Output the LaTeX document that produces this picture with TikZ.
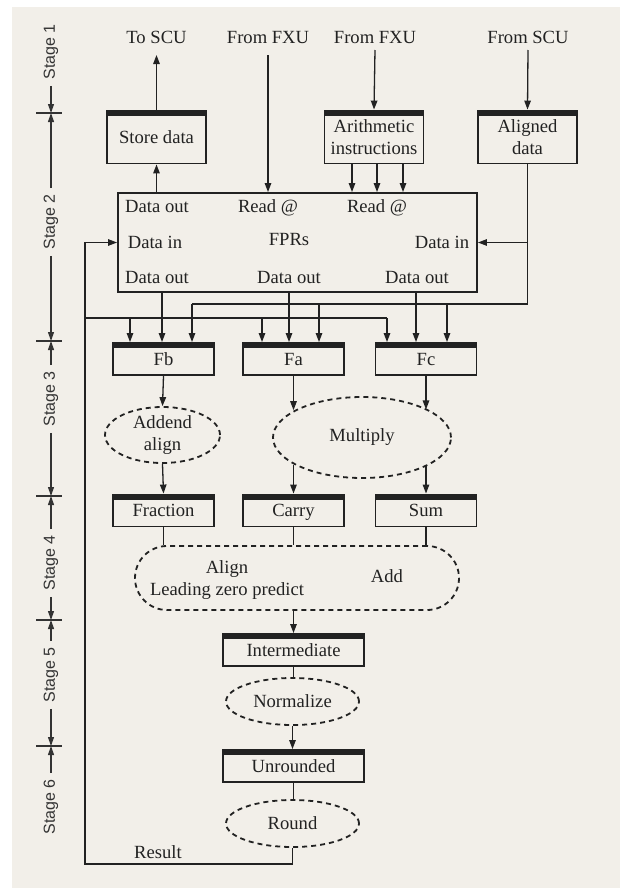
\documentclass[tikz,border=0pt]{standalone}
\usepackage{fontspec}
\setmainfont{Liberation Serif}
\newfontfamily\stagefont{Liberation Sans}
\usetikzlibrary{arrows.meta,shapes.geometric,calc}
\definecolor{bgc}{HTML}{F2EFE9}
\definecolor{ink}{HTML}{222222}
\definecolor{stg}{HTML}{333333}
\begin{document}
\begin{tikzpicture}[x=1pt,y=-1pt,
  font=\fontsize{18.6}{23}\selectfont,
  every node/.style={text=ink},
  conn/.style={draw=ink, line width=1.3pt},
  arr/.style={conn, -{Triangle[length=9pt,width=6.5pt]}},
  sarr/.style={draw=stg, line width=1.1pt, -{Triangle[length=9pt,width=6pt]}},
  reg/.style={rectangle, draw=ink, line width=1.9pt, inner sep=0pt, align=center,
    minimum height=32pt, text depth=0pt,
    path picture={\fill[ink] ([yshift=1pt]path picture bounding box.north west) rectangle ([yshift=-5pt]path picture bounding box.north east);}},
  dashbox/.style={draw=ink, line width=1.8pt, dash pattern=on 5pt off 4pt},
  oval/.style={ellipse, dashbox, inner sep=0pt, align=center},
  lab/.style={anchor=base, inner sep=0pt},
  stagelab/.style={rotate=90, font=\stagefont\fontsize{16}{18}\selectfont, text=stg, inner sep=6pt}
]
\useasboundingbox (0,0) rectangle (620,889);
\fill[bgc] (12,7) rectangle (620,888);

% ---------- stage ruler ----------
\foreach \n/\y in {1/113,2/341,3/496,4/620,5/746}{
  \coordinate (t\n) at (51,\y);
  \draw[draw=stg, line width=1.1pt] (36,\y) -- (62,\y);
}
\node[stagelab] (st1) at (51,52) {Stage 1};
\node[stagelab] (st2) at (51,222) {Stage 2};
\node[stagelab] (st3) at (51,399) {Stage 3};
\node[stagelab] (st4) at (51,563) {Stage 4};
\node[stagelab] (st5) at (51,675) {Stage 5};
\node[stagelab] (st6) at (51,807) {Stage 6};
\draw[sarr] (st1.west) -- (t1);
\draw[sarr] (st2.east) -- (t1);
\draw[sarr] (st2.west) -- (t2);
\draw[sarr] (st3.east) -- (t2);
\draw[sarr] (st3.west) -- (t3);
\draw[sarr] (st4.east) -- (t3);
\draw[sarr] (st4.west) -- (t4);
\draw[sarr] (st5.east) -- (t4);
\draw[sarr] (st5.west) -- (t5);
\draw[sarr] (st6.east) -- (t5);

% ---------- top labels ----------
\node[lab] (toscu) at (156.5,43) {To SCU};
\node[lab] (fxu1) at (268,43) {From FXU};
\node[lab] (fxu2) at (375,43) {From FXU};
\node[lab] (fscu) at (528,43) {From SCU};

% ---------- stage 2 registers ----------
\node[reg, minimum width=99pt, minimum height=53pt] (store) at (156.5,137) {Store data};
\node[reg, minimum width=99pt, minimum height=53pt] (arith) at (374,137) {Arithmetic\\[-1pt]instructions};
\node[reg, minimum width=99pt, minimum height=53pt] (aligned) at (527.5,137) {Aligned\\[-1pt]data};

\draw[arr] (store.north) -- ([yshift=-12pt]toscu.base);
\draw[arr] ([yshift=-7pt]fxu2.base) -- (arith.north);
\draw[arr] ([yshift=-7pt]fscu.base) -- (aligned.north);

% ---------- FPRs ----------
\node[draw=ink, line width=1.9pt, minimum width=359pt, minimum height=99pt, inner sep=0pt] (fpr) at (297.5,242.5) {};
\node[lab] (do1) at (157,212) {Data out};
\node[lab] (rd1) at (268,212) {Read @};
\node[lab] (rd2) at (377,212) {Read @};
\node[lab] (di1) at (155,248) {Data in};
\node[lab] (fprl) at (289,245) {FPRs};
\node[lab] (di2) at (442,248) {Data in};
\node[lab] (do2) at (157,283) {Data out};
\node[lab] (do3) at (289,283) {Data out};
\node[lab] (do4) at (417,283) {Data out};

\draw[arr] ([yshift=-12pt]fxu1.base) -- (fxu1.base |- fpr.north);
\draw[arr] (store.south |- fpr.north) -- (store.south);
\coordinate (ai1) at (352,163);
\coordinate (ai2) at (377,163);
\coordinate (ai3) at (403,163);
\draw[arr] (ai1 |- arith.south) -- (ai1 |- fpr.north);
\draw[arr] (ai2 |- arith.south) -- (ai2 |- fpr.north);
\draw[arr] (ai3 |- arith.south) -- (ai3 |- fpr.north);

% ---------- stage 3 registers ----------
\node[reg, minimum width=101pt] (Fb) at (163.5,359) {Fb};
\node[reg, minimum width=101pt] (Fa) at (293.5,359) {Fa};
\node[reg, minimum width=101pt] (Fc) at (426,359) {Fc};

% FPR data out
\coordinate (o1) at (162,292);
\coordinate (o2) at (289,292);
\coordinate (o3) at (416,292);
\draw[arr] (o1 |- fpr.south) -- (o1 |- Fb.north);
\draw[arr] (o2 |- fpr.south) -- (o2 |- Fa.north);
\draw[arr] (o3 |- fpr.south) -- (o3 |- Fc.north);

% bus A from aligned data
\coordinate (busA) at (527.5,304);
\coordinate (a1) at (192,304);
\coordinate (a2) at (319,304);
\coordinate (a3) at (447,304);
\draw[conn] (aligned.south) -- (busA) -- (a1);
\draw[arr] (aligned.south |- fpr.east) -- (fpr.east);
\draw[arr] (a1) -- (a1 |- Fb.north);
\draw[arr] (a2) -- (a2 |- Fa.north);
\draw[arr] (a3) -- (a3 |- Fc.north);

% bus B from result loop
\coordinate (loopL) at (85,864);
\coordinate (b1) at (130,318);
\coordinate (b2) at (262,318);
\coordinate (b3) at (387,318);
\draw[conn] (loopL |- b1) -- (b3);
\draw[arr] (b1) -- (b1 |- Fb.north);
\draw[arr] (b2) -- (b2 |- Fa.north);
\draw[arr] (b3) -- (b3 |- Fc.north);

% ---------- stage 3 operations ----------
\node[oval, minimum width=115pt, minimum height=56pt] (addal) at (162.5,435) {Addend\\[-1pt]align};
\node[oval, minimum width=178pt, minimum height=81pt] (mult) at (362,437.5) {Multiply};
\draw[arr] (Fb.south) -- (addal.north);
\draw[arr] (Fa.south) -- (Fa.south |- mult.158);
\draw[arr] (Fc.south) -- (Fc.south |- mult.23);

% ---------- stage 4 registers ----------
\node[reg, minimum width=101pt] (frac) at (163.5,510.5) {Fraction};
\node[reg, minimum width=101pt] (carry) at (293.5,510.5) {Carry};
\node[reg, minimum width=101pt] (sum) at (426,510.5) {Sum};
\draw[arr] (addal.south) -- (frac.north);
\draw[arr] (carry.north |- mult.202) -- (carry.north);
\draw[arr] (sum.north |- mult.-23) -- (sum.north);

% ---------- align / add ----------
\node[dashbox, rounded corners=32pt, minimum width=324pt, minimum height=64pt, inner sep=0pt] (add) at (297,578) {};
\node[lab] (alg) at (227,573) {Align};
\node[lab] (lzp) at (227,595) {Leading zero predict};
\node[lab] (addl) at (387,582) {Add};
\draw[conn] (frac.south) -- (frac.south |- add.north);
\draw[conn] (carry.south) -- (carry.south |- add.north);
\draw[conn] (sum.south) -- (sum.south |- add.north);

% ---------- stages 5, 6 ----------
\node[reg, minimum width=141pt] (inter) at (293.5,650) {Intermediate};
\node[oval, minimum width=133pt, minimum height=47pt] (norm) at (292.5,701.5) {Normalize};
\node[reg, minimum width=141pt] (unr) at (293.5,766) {Unrounded};
\node[oval, minimum width=133pt, minimum height=47pt] (round) at (292.5,823.5) {Round};
\draw[arr] (inter.north |- add.south) -- (inter.north);
\draw[conn] (inter.south) -- (inter.south |- norm.north);
\draw[arr] (norm.south) -- (norm.south |- unr.north);
\draw[conn] (unr.south) -- (unr.south |- round.north);

% result loop
\node[lab] (res) at (158,858) {Result};
\draw[arr] (round.south) |- (loopL) |- (fpr.west);
\end{tikzpicture}
\end{document}
